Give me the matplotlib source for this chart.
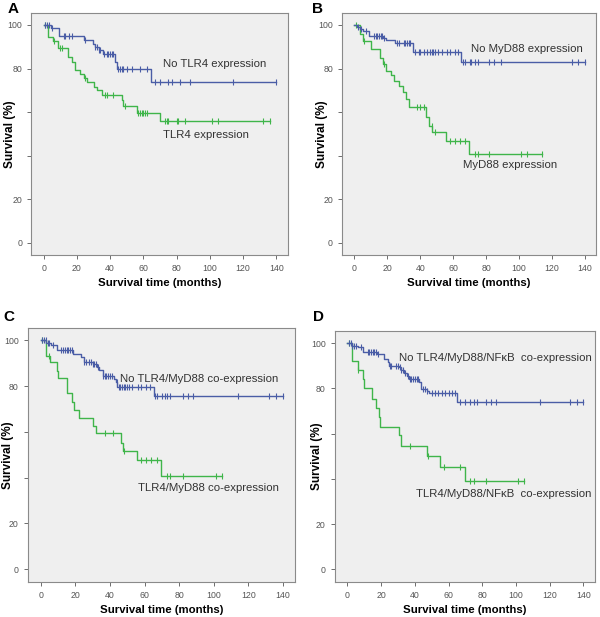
import numpy as np
import matplotlib
matplotlib.use("Agg")
import matplotlib.pyplot as plt

plt.rcParams['font.family'] = ['Liberation Sans', 'DejaVu Sans']

BLUE = '#4a5da6'
GREEN = '#3fb54a'

# ---- Panel A: TLR4 ----
a_no_t = [4.5, 9.5, 24, 29.6, 31, 33, 35.5, 42.7, 44, 64.5]
a_no_s = [98.5, 95.1, 93.1, 91.3, 89.9, 88.5, 86.6, 83.2, 79.7, 73.9]
a_no_c = [1, 2, 3, 5, 12, 13, 15, 17, 25, 31, 32, 33, 34, 36, 38, 39, 40, 41, 42,
          45, 46, 47, 48, 50, 53, 58, 62, 67, 70, 75, 77, 82, 88, 114, 140]
a_yes_t = [2.4, 5.5, 8.5, 14.5, 17, 19, 22, 24, 26, 30, 32, 35, 47, 48, 56, 70]
a_yes_s = [94.4, 92.7, 89.6, 85.5, 83.2, 79.5, 77.7, 75.6, 74, 71.7, 70, 68, 65.6,
           62.9, 59.8, 55.7]
a_yes_c = [1, 6, 10, 11, 25, 37, 38, 42, 49, 57, 58, 59, 60, 61, 62, 73, 74, 75,
           80, 81, 85, 101, 105, 132, 136]

# ---- Panel B: MyD88 ----
b_no_t = [1.8, 3.4, 5.4, 9, 17.5, 19.5, 24.6, 35.7, 65]
b_no_s = [99.2, 98.2, 97.1, 95.1, 94, 93.1, 91.6, 87.5, 82.9]
b_no_c = [2, 4, 7, 12, 13, 14, 15, 16, 17, 18, 26, 27, 30, 31, 32, 33, 34, 37, 39,
          40, 42, 44, 46, 47, 48, 49, 51, 53, 56, 58, 61, 63, 66, 67, 70, 71, 73,
          75, 82, 85, 89, 132, 136, 140]
b_yes_t = [3.4, 5.4, 9.9, 15.5, 17.5, 19.5, 22, 24, 27, 29.5, 31.5, 33, 43.3,
           45.3, 47.3, 55.8, 69.5]
b_yes_s = [95.9, 92.8, 89, 84.9, 82.1, 79, 76.8, 74.5, 71.9, 69.2, 66.2, 62.2,
           57.6, 53.8, 50.7, 46.9, 40.8]
b_yes_c = [1, 6, 18, 38, 40, 42, 47, 49, 58, 61, 64, 67, 73, 75, 82, 101, 105, 114]

# ---- Panel C: TLR4/MyD88 ----
c_no_t = [3.3, 6, 9.6, 18.5, 23.3, 25, 30, 32.3, 33.8, 35.8, 42.4, 43.4, 44.4, 65.4]
c_no_s = [99, 98, 95.6, 94.2, 92.5, 90.7, 89.5, 88.1, 87.1, 84.5, 83, 81.6, 79.4, 75.8]
c_no_c = [1, 2, 3, 4, 5, 7, 12, 13, 14, 15, 16, 17, 18, 25, 26, 28, 29, 30, 31, 32,
          33, 36, 37, 38, 39, 40, 41, 44, 45, 46, 47, 48, 49, 50, 51, 53, 56, 58,
          61, 63, 66, 67, 70, 72, 73, 75, 82, 85, 88, 114, 132, 136, 140]
c_yes_t = [2.9, 5.7, 9.4, 10, 15.3, 18, 19.5, 22, 30, 32, 46.7, 47.6, 55.4, 69.8]
c_yes_s = [93.2, 90.3, 86.6, 83.5, 76.8, 72.9, 69.7, 66, 62.7, 59.4, 55, 51.8,
           47.8, 40.5]
c_yes_c = [1, 5, 37, 42, 48, 58, 61, 64, 67, 73, 75, 82, 101, 105]

# ---- Panel D: TLR4/MyD88/NFkB ----
d_no_t = [3, 6, 9, 17.8, 21.8, 23.8, 24.8, 30.3, 31.7, 33.3, 35.6, 36.6, 42.6,
          43.6, 47, 48.1, 65]
d_no_s = [98.8, 98.4, 96.3, 95.2, 93, 91.5, 90, 89.3, 88.3, 87, 85.6, 84.1, 82.7,
          79.7, 78.7, 77.8, 74.2]
d_no_c = [1, 2, 3, 4, 5, 8, 12, 13, 14, 15, 16, 17, 18, 25, 26, 29, 30, 31, 32, 33,
          34, 36, 37, 38, 39, 40, 41, 42, 45, 46, 47, 50, 52, 54, 56, 58, 60, 62,
          64, 67, 70, 73, 75, 77, 82, 85, 88, 114, 132, 136, 140]
d_yes_t = [3, 6, 9, 10, 14.5, 16.8, 18.8, 19.2, 30.3, 31.7, 47.1, 54.9, 69.7]
d_yes_s = [92.2, 88.1, 84.1, 80.2, 75.3, 71.4, 67.3, 63.1, 59.2, 54.5, 49.9, 45.2, 39]
d_yes_c = [1, 6, 37, 48, 57, 67, 73, 75, 82, 101, 105]

panels = [
    ('A', [0.052, 0.587, 0.428, 0.392], (0.013, 0.997), -0.058,
     (a_no_t, a_no_s, a_no_c), (a_yes_t, a_yes_s, a_yes_c),
     'No TLR4 expression', (72, 82), 'TLR4 expression', (72, 49.6)),
    ('B', [0.570, 0.587, 0.424, 0.392], (0.520, 0.997), -0.055,
     (b_no_t, b_no_s, b_no_c), (b_yes_t, b_yes_s, b_yes_c),
     'No MyD88 expression', (71, 89), 'MyD88 expression', (66, 35.5)),
    ('C', [0.046, 0.057, 0.446, 0.412], (0.006, 0.497), -0.052,
     (c_no_t, c_no_s, c_no_c), (c_yes_t, c_yes_s, c_yes_c),
     'No TLR4/MyD88 co-expression', (46, 83), 'TLR4/MyD88 co-expression', (56.5, 35.4)),
    ('D', [0.558, 0.057, 0.434, 0.407], (0.521, 0.497), -0.046,
     (d_no_t, d_no_s, d_no_c), (d_yes_t, d_yes_s, d_yes_c),
     'No TLR4/MyD88/NF\u03baB  co-expression', (30.5, 93.4),
     'TLR4/MyD88/NF\u03baB  co-expression', (40.5, 33.5)),
]


def km(ax, t, s, cens, color, end):
    x = [0] + list(t) + [end]
    y = [100] + list(s) + [s[-1]]
    ax.step(x, y, where='post', color=color, lw=1.0)
    tt = np.array(t)
    ss = np.array([100] + list(s))
    cy = ss[np.searchsorted(tt, cens, side='right')]
    ax.plot(cens, cy, ls='none', marker='|', ms=4.5, mew=0.8, color=color)


fig = plt.figure(figsize=(6, 6.17), dpi=100)
for letter, pos, lxy, ylx, no, yes, no_lab, no_xy, yes_lab, yes_xy in panels:
    ax = fig.add_axes(pos)
    ax.set_facecolor('#efefef')
    km(ax, *yes, GREEN, max(yes[2]))
    km(ax, *no, BLUE, max(no[2]))
    ax.text(no_xy[0], no_xy[1], no_lab, fontsize=8.2, color='#333333', va='center')
    ax.text(yes_xy[0], yes_xy[1], yes_lab, fontsize=8.2, color='#333333', va='center')
    ax.set_xlim(-7.5, 147)
    ax.set_ylim(-5.5, 105.5)
    ax.set_xticks(range(0, 141, 20))
    ax.set_yticks(range(0, 101, 20))
    # 40 and 60 labels are hidden behind the axis title in the original
    ax.set_yticklabels(['0', '20', '', '', '80', '100'])
    ax.tick_params(labelsize=6.3, colors='#555555', length=3, width=0.6)
    for sp in ax.spines.values():
        sp.set_color('#8a8a8a')
        sp.set_linewidth(0.8)
    ax.set_xlabel('Survival time (months)', fontsize=8.2, fontweight='bold', labelpad=4)
    ax.set_ylabel('Survival (%)', fontsize=8.5, fontweight='bold')
    ax.yaxis.set_label_coords(ylx, 0.5)
    fig.text(lxy[0], lxy[1], letter, fontsize=11, fontweight='bold', va='top', ha='left')

fig.savefig('out.png', dpi=100)
